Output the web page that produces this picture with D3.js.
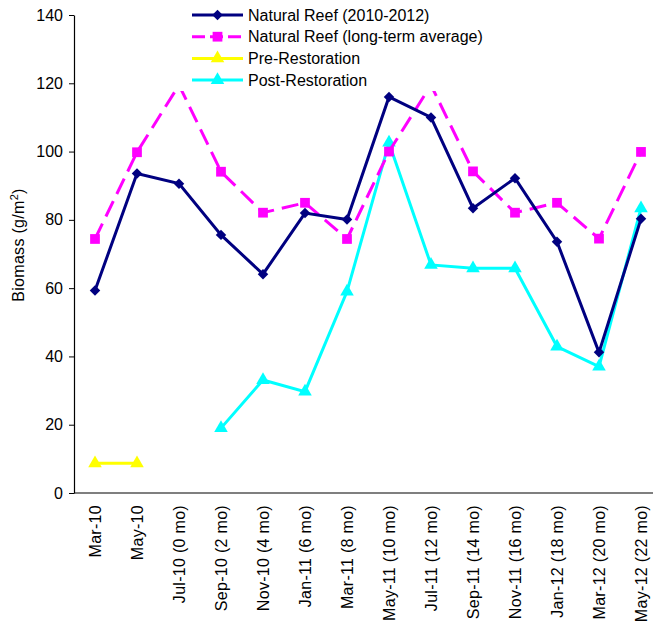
<!DOCTYPE html>
<html>
<head>
<meta charset="utf-8">
<script src="https://cdn.jsdelivr.net/npm/d3@7"></script>
<style>
  body { margin: 0; background: #fff; }
  svg { display: block; font-family: Arial, "Liberation Sans", sans-serif; }
</style>
</head>
<body>
<div id="chart"></div>
<script>
// Fish biomass on natural vs restored reef
const categories = ["Mar-10", "May-10", "Jul-10 (0 mo)", "Sep-10 (2 mo)", "Nov-10 (4 mo)",
  "Jan-11 (6 mo)", "Mar-11 (8 mo)", "May-11 (10 mo)", "Jul-11 (12 mo)", "Sep-11 (14 mo)",
  "Nov-11 (16 mo)", "Jan-12 (18 mo)", "Mar-12 (20 mo)", "May-12 (22 mo)"];

const naturalReef = [59.3, 93.6, 90.6, 75.6, 64.1, 82, 80.1, 116, 110, 83.4, 92.2, 73.6, 41.2, 80.3];
const longTermAvg = [74.4, 99.8, 119.5, 94.1, 82.1, 85, 74.4, 100, 119.5, 94.2, 82.1, 85, 74.5, 99.9];
const preRestoration = [8.7, 8.7, null, null, null, null, null, null, null, null, null, null, null, null];
const postRestoration = [null, null, null, 19, 33.1, 29.7, 59, 102.6, 66.8, 65.8, 65.8, 42.9, 37, 83.4];

const yTicks = [0, 20, 40, 60, 80, 100, 120, 140];

const width = 653, height = 627;
const plotLeft = 74, plotTop = 15, plotBottom = 493;
const bandW = 42;

const svg = d3.select("#chart").append("svg")
    .attr("width", width)
    .attr("height", height);

const x = d3.scalePoint()
    .domain(categories)
    .range([plotLeft + bandW / 2, plotLeft + bandW * categories.length - bandW / 2]);

const y = d3.scaleLinear()
    .domain([0, 140])
    .range([plotBottom, plotTop]);

// y axis
const yAxis = svg.append("g")
    .attr("transform", `translate(${plotLeft},0)`)
    .call(d3.axisLeft(y).tickValues(yTicks).tickSize(5).tickSizeOuter(0).tickPadding(6));
yAxis.select(".domain").attr("stroke", "#000").attr("stroke-width", 1.2);
yAxis.selectAll(".tick line").attr("stroke", "#000");
yAxis.selectAll("text").style("font-size", "16px").style("font-family", "Arial, 'Liberation Sans', sans-serif").attr("fill", "#000");

// x axis line
svg.append("line")
    .attr("x1", plotLeft).attr("x2", plotLeft + bandW * categories.length)
    .attr("y1", plotBottom).attr("y2", plotBottom)
    .attr("stroke", "#000").attr("stroke-width", 1.2);

// x tick labels, rotated
svg.append("g").selectAll("text")
    .data(categories)
    .join("text")
    .attr("transform", d => `translate(${x(d) + 5.5},${plotBottom + 12}) rotate(-90)`)
    .attr("text-anchor", "end")
    .style("font-size", "16px")
    .style("letter-spacing", "0.3px")
    .text(d => d);

// y title
const yTitle = svg.append("text")
    .attr("transform", "translate(23.5,245) rotate(-90)")
    .attr("text-anchor", "middle")
    .style("font-size", "16px")
    .style("letter-spacing", "0.3px");
yTitle.append("tspan").text("Biomass (g/m");
yTitle.append("tspan").attr("baseline-shift", "super").style("font-size", "11px").text("2");
yTitle.append("tspan").text(")");

const line = d3.line()
    .defined(d => d[1] != null)
    .x(d => x(d[0]))
    .y(d => y(d[1]));

const series = [
  { name: "Natural Reef (2010-2012)", values: naturalReef, color: "#000080", marker: "diamond", dash: null },
  { name: "Natural Reef (long-term average)", values: longTermAvg, color: "#FF00FF", marker: "square", dash: "17,8" },
  { name: "Pre-Restoration", values: preRestoration, color: "#FFFF00", marker: "triangle", dash: null },
  { name: "Post-Restoration", values: postRestoration, color: "#00FFFF", marker: "triangle", dash: null }
];

const symbols = {
  diamond: d3.symbol().type(d3.symbolDiamond2).size(70),
  square: d3.symbol().type(d3.symbolSquare).size(95),
  triangle: d3.symbol().type(d3.symbolTriangle).size(80)
};

// draw in reverse so navy ends up on top
series.slice().reverse().forEach(s => {
  const pts = categories.map((c, i) => [c, s.values[i]]);
  const g = svg.append("g");
  g.append("path")
    .datum(pts)
    .attr("d", line)
    .attr("fill", "none")
    .attr("stroke", s.color)
    .attr("stroke-width", 3)
    .attr("stroke-dasharray", s.dash);
  g.selectAll("path.m")
    .data(pts.filter(d => d[1] != null))
    .join("path")
    .attr("class", "m")
    .attr("transform", d => `translate(${x(d[0])},${y(d[1])})`)
    .attr("d", symbols[s.marker])
    .attr("fill", s.color);
});

// legend with white box that covers lines beneath
const legend = svg.append("g");
legend.append("rect")
    .attr("x", 166).attr("y", 0)
    .attr("width", 330).attr("height", 91)
    .attr("fill", "#fff");

series.forEach((s, i) => {
  const ly = 15 + i * 21.7;
  const row = legend.append("g").attr("transform", `translate(192,${ly})`);
  row.append("line")
    .attr("x1", 0).attr("x2", 51)
    .attr("stroke", s.color).attr("stroke-width", 3)
    .attr("stroke-dasharray", s.dash ? "13,5" : null);
  row.append("path")
    .attr("transform", "translate(25.5,0)")
    .attr("d", symbols[s.marker])
    .attr("fill", s.color);
  row.append("text")
    .attr("x", 56).attr("dy", "0.35em")
    .style("font-size", "16px")
    .text(s.name);
});
</script>
</body>
</html>
